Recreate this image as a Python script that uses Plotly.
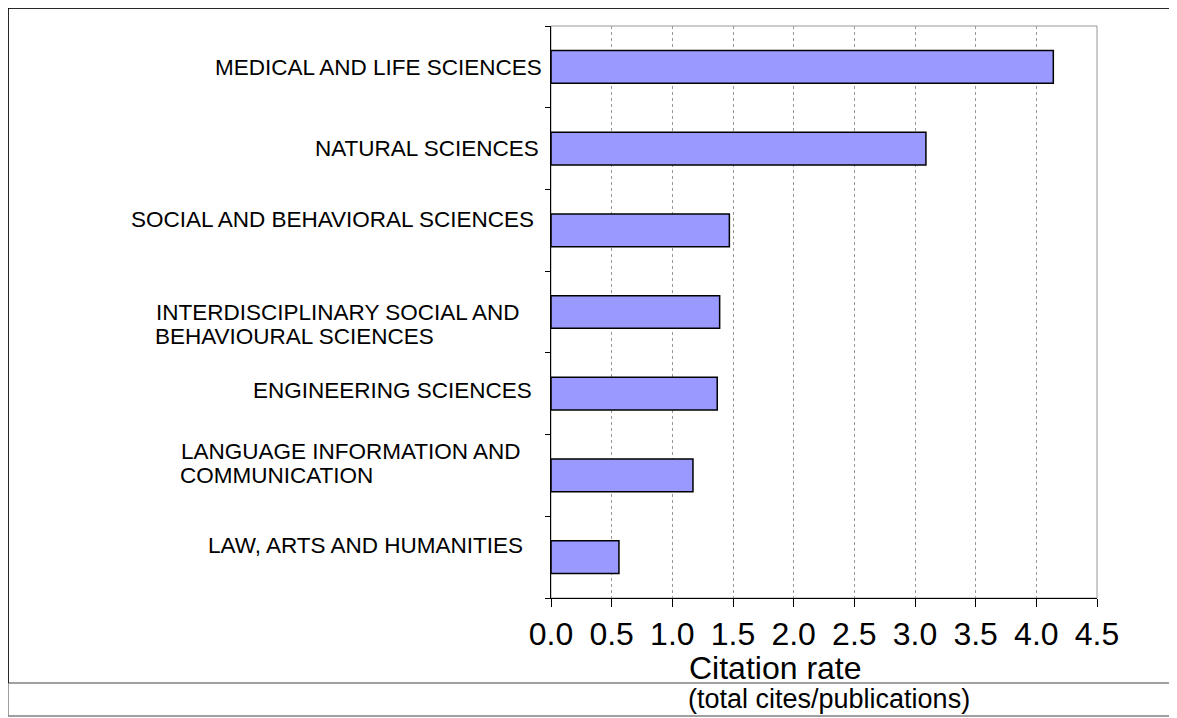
import plotly.graph_objects as go

# data
categories = [
    "MEDICAL AND LIFE SCIENCES",
    "NATURAL SCIENCES",
    "SOCIAL AND BEHAVIORAL SCIENCES",
    "INTERDISCIPLINARY SOCIAL AND<br>BEHAVIOURAL SCIENCES",
    "ENGINEERING SCIENCES",
    "LANGUAGE INFORMATION AND<br>COMMUNICATION",
    "LAW, ARTS AND HUMANITIES",
]
citation_rate = [4.14, 3.09, 1.47, 1.39, 1.37, 1.17, 0.56]
x_ticks = [0.0, 0.5, 1.0, 1.5, 2.0, 2.5, 3.0, 3.5, 4.0, 4.5]

# label nudges (px) to mimic the original placement of the category texts
label_nudge = [(-7, 1), (-10, 0), (-15, -11), (-30, 12), (-17, -3), (-28, -12), (-26, -12)]
LINE_GAP = 24

FONT = "Liberation Sans, Arial, sans-serif"
# the page puts the figure 8px in from the top-left corner
OFF = 8
W, H = 1177 - OFF, 718 - OFF
PL, PR, PT, PB = 551, 1097, 26, 598   # plot area in page pixels
L, T = PL - OFF, PT - OFF
R, B = W - (PR - OFF), H - (PB - OFF)
pw, ph = PR - PL, PB - PT


def px_x(p):
    return (p - PL) / pw


def px_y(p):
    return (PB - p) / ph


pos = list(range(len(categories)))

fig = go.Figure(go.Bar(
    x=citation_rate,
    y=pos,
    orientation="h",
    width=0.4,
    marker=dict(color="#9999FF", line=dict(color="#000000", width=1.5)),
    hoverinfo="x",
))

annotations = []
for i, (txt, (dx, dy)) in enumerate(zip(categories, label_nudge)):
    lines = txt.split("<br>")
    n = len(lines)
    for k, line in enumerate(lines):
        off = (k - (n - 1) / 2) * LINE_GAP
        a = dict(
            text=line, x=0, xref="paper", y=i, yref="y",
            xanchor="right", yanchor="middle",
            xshift=dx, yshift=-(dy + off), showarrow=False,
            font=dict(family=FONT, size=22.5, color="#000000"),
        )
        annotations.append(a)
    if n > 1:
        # wrapped labels: later lines start where the first line starts
        first = annotations[-n]
        for a in annotations[-n + 1:]:
            a["xanchor"] = "left"
            a["x"] = px_x(153 if i == 3 else 178)
            a["xshift"] = 0

annotations.append(dict(
    text="Citation rate", x=px_x(687), xref="paper", y=px_y(668), yref="paper",
    xanchor="left", yanchor="middle", showarrow=False,
    font=dict(family=FONT, size=32, color="#000000"),
))
annotations.append(dict(
    text="(total cites/publications)", x=px_x(686), xref="paper", y=px_y(699), yref="paper",
    xanchor="left", yanchor="middle", showarrow=False,
    font=dict(family=FONT, size=27, color="#000000"),
))

shapes = [
    # plot area frame (grey top/right)
    dict(type="rect", xref="paper", yref="paper", x0=0, x1=1, y0=0, y1=1,
         line=dict(color="#999999", width=1), layer="below"),
    # outer grey box
    dict(type="rect", xref="paper", yref="paper",
         x0=px_x(8), x1=px_x(1173), y0=px_y(716), y1=px_y(8),
         line=dict(color="#808080", width=1.5)),
    # separator line
    dict(type="line", xref="paper", yref="paper",
         x0=px_x(8), x1=px_x(1173), y0=px_y(683), y1=px_y(683),
         line=dict(color="#808080", width=1.5)),
    # black chart frame
    dict(type="path", xref="paper", yref="paper",
         path=f"M {px_x(8)},{px_y(683)} L {px_x(8)},{px_y(8)} L {px_x(1173)},{px_y(8)} L {px_x(1173)},{px_y(683)}",
         line=dict(color="#000000", width=1.5)),
]

fig.update_layout(
    width=W, height=H,
    margin=dict(l=L, r=R, t=T, b=B),
    paper_bgcolor="#FFFFFF",
    plot_bgcolor="#FFFFFF",
    showlegend=False,
    annotations=annotations,
    shapes=shapes,
    font=dict(family=FONT, color="#000000"),
    xaxis=dict(
        range=[0, 4.5], tickvals=x_ticks, ticktext=[f"{v:.1f}" for v in x_ticks],
        showgrid=True, gridcolor="#999999", griddash="dot", gridwidth=1,
        showline=True, linecolor="#000000", linewidth=1,
        ticks="outside", ticklen=8, tickcolor="#000000",
        tickfont=dict(family=FONT, size=32, color="#000000"),
        zeroline=False, fixedrange=True,
    ),
    yaxis=dict(
        range=[len(categories) - 0.5, -0.5],
        tickvals=[i - 0.5 for i in range(len(categories) + 1)],
        showticklabels=False, showgrid=False,
        showline=True, linecolor="#000000", linewidth=1,
        ticks="outside", ticklen=5, tickcolor="#000000",
        zeroline=False, fixedrange=True,
    ),
)

fig.write_html("out.html")
